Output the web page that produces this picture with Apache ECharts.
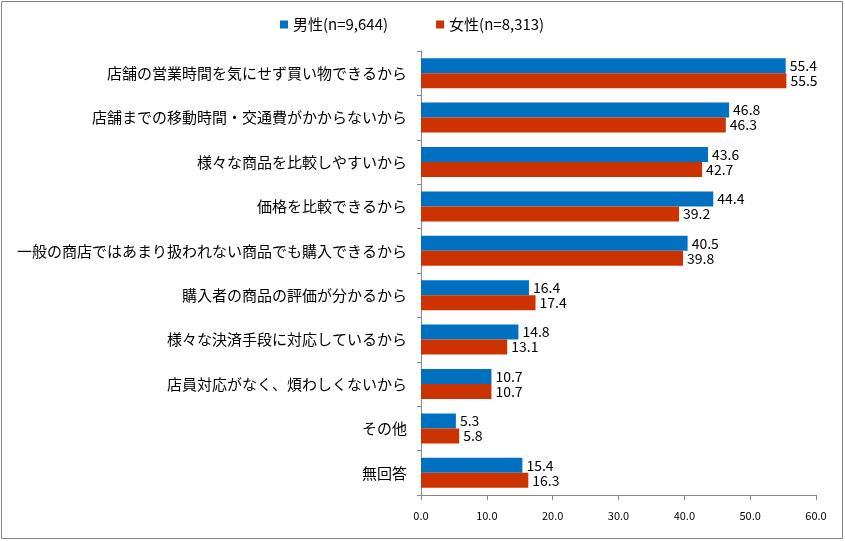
<!DOCTYPE html>
<html><head><meta charset="utf-8">
<script src="https://cdn.jsdelivr.net/npm/echarts@6/dist/echarts.min.js"></script>
<style>html,body{margin:0;padding:0;background:#fff}#c{width:845px;height:541px}</style>
</head><body><div id="c"></div>
<script>
const categories = [
  '店舗の営業時間を気にせず買い物できるから',
  '店舗までの移動時間・交通費がかからないから',
  '様々な商品を比較しやすいから',
  '価格を比較できるから',
  '一般の商店ではあまり扱われない商品でも購入できるから',
  '購入者の商品の評価が分かるから',
  '様々な決済手段に対応しているから',
  '店員対応がなく、煩わしくないから',
  'その他',
  '無回答'
];
const maleValues = [55.4, 46.8, 43.6, 44.4, 40.5, 16.4, 14.8, 10.7, 5.3, 15.4];
const femaleValues = [55.5, 46.3, 42.7, 39.2, 39.8, 17.4, 13.1, 10.7, 5.8, 16.3];
const seriesNames = ['男性(n=9,644)', '女性(n=8,313)'];
const fontFam = '"Noto Sans CJK JP", "Noto Sans", sans-serif';
const chart = echarts.init(document.getElementById('c'), null, {renderer: 'canvas'});
const lbl = {show: true, position: 'right', distance: 4, color: '#000', fontSize: 14, fontFamily: fontFam, formatter: p => p.value.toFixed(1)};
chart.setOption({
  animation: false,
  graphic: [{type: 'rect', shape: {x: 1.5, y: 1.5, width: 841, height: 537}, style: {fill: 'none', stroke: '#868686', lineWidth: 1}}],
  legend: {
    top: 12, left: 275, itemWidth: 8, itemHeight: 8, itemGap: 48, icon: 'rect',
    textStyle: {fontSize: 15, fontFamily: fontFam, color: '#000'},
    data: seriesNames
  },
  grid: {left: 421, right: 29, top: 51, bottom: 46, containLabel: false},
  xAxis: {
    type: 'value', min: 0, max: 60, interval: 10,
    axisLine: {show: true, lineStyle: {color: '#868686'}},
    axisTick: {show: true, length: 5, lineStyle: {color: '#868686'}},
    splitLine: {show: false},
    axisLabel: {color: '#000', fontSize: 11, fontFamily: fontFam, margin: 15, formatter: v => v.toFixed(1)}
  },
  yAxis: {
    type: 'category', data: categories, inverse: true,
    axisLine: {show: true, lineStyle: {color: '#868686'}},
    axisTick: {show: true, length: 4, lineStyle: {color: '#868686'}},
    axisLabel: {color: '#000', fontSize: 15, fontFamily: fontFam, margin: 14}
  },
  series: [
    {name: seriesNames[0], type: 'bar', data: maleValues, itemStyle: {color: '#0070C0'}, barWidth: 15, barGap: '0%', label: lbl},
    {name: seriesNames[1], type: 'bar', data: femaleValues, itemStyle: {color: '#CC3300'}, barWidth: 15, barGap: '0%', label: lbl}
  ]
});
</script></body></html>
